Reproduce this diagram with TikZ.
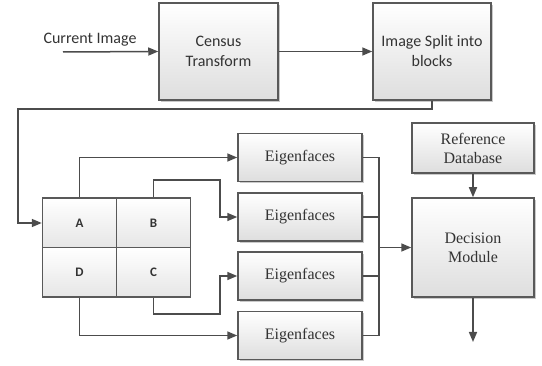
\documentclass[tikz,border=0pt]{standalone}
\usepackage{fontspec}
\setmainfont{Liberation Serif}
\setsansfont{Carlito}
\usetikzlibrary{arrows.meta,shadows}

\begin{document}
\begin{tikzpicture}[x=1pt,y=-1pt]
    \tikzstyle{every node}+=[inner sep=0pt, font=\fontsize{16}{18}\selectfont, align=center, text=black!80]
    \tikzstyle{blk}=[draw=black!65, line width=1.5pt, top color=white, bottom color=black!13,
        drop shadow={shadow xshift=2pt, shadow yshift=-2pt, opacity=0.35, fill=black!60}]
    \tikzstyle{cell}=[draw=black!65, line width=1.5pt, top color=white, bottom color=black!10,
        minimum width=74pt, minimum height=49.5pt, font=\sffamily\bfseries\fontsize{13}{15}\selectfont]
    \tikzstyle{arr}=[draw=black!70, line width=1.5pt, -{Triangle[length=10pt,width=8pt]}]
    \tikzstyle{ln}=[draw=black!70, line width=1.5pt]
    \useasboundingbox (0,0) rectangle (542,366);
    % top row
    \node (curlbl) at (90,40) {\sffamily Current Image};
    \coordinate (cin) at (63,52);
    \node [blk, minimum width=119pt, minimum height=97pt] (census) at (218.5,51.5)
        {\sffamily Census\\[2pt]\sffamily Transform};
    \node [blk, minimum width=118pt, minimum height=97pt] (split) at (432,51.5)
        {\sffamily Image Split into\\[2pt]\sffamily blocks};
    \draw [arr] (cin) -- (census.west);
    \draw [arr] (census) -- (split);
    % blocks
    \node [cell] (cellA) at (79.5,223) {A};
    \node [cell] (cellB) at (153.5,223) {B};
    \node [cell] (cellD) at (79.5,272.5) {D};
    \node [cell] (cellC) at (153.5,272.5) {C};
    \coordinate (bendR) at (432,109);
    \coordinate (bendL) at (18,109);
    \draw [arr] (split.south) -- (bendR) -- (bendL) |- (cellA.west);
    % eigenfaces
    \node [blk, minimum width=124pt, minimum height=48pt] (eig1) at (300,157.5) {Eigenfaces};
    \node [blk, minimum width=124pt, minimum height=48pt] (eig2) at (300,217) {Eigenfaces};
    \node [blk, minimum width=124pt, minimum height=48pt] (eig3) at (300,276) {Eigenfaces};
    \node [blk, minimum width=124pt, minimum height=48pt] (eig4) at (300,335.5) {Eigenfaces};
    \coordinate (jB) at (220,180);
    \coordinate (jC) at (220,314);
    \draw [arr] (cellA.north) |- (eig1.west);
    \draw [arr] (cellB.north) |- (jB) |- (eig2.west);
    \draw [arr] (cellC.south) |- (jC) |- (eig3.west);
    \draw [arr] (cellD.south) |- (eig4.west);
    % decision
    \node [blk, minimum width=122pt, minimum height=50pt] (refdb) at (473,148) {Reference\\[1pt]Database};
    \node [blk, minimum width=122pt, minimum height=99pt] (decision) at (473,247.5) {Decision\\[1pt]Module};
    \coordinate (bus) at (379,247.5);
    \coordinate (out) at (473,342);
    \draw [ln] (eig1.east) -| (bus);
    \draw [ln] (eig4.east) -| (bus);
    \draw [ln] (eig2.east) -- (eig2.east -| bus);
    \draw [ln] (eig3.east) -- (eig3.east -| bus);
    \draw [arr] (bus) -- (decision.west);
    \draw [arr] (refdb) -- (decision);
    \draw [arr] (decision) -- (out);
\end{tikzpicture}
\end{document}
